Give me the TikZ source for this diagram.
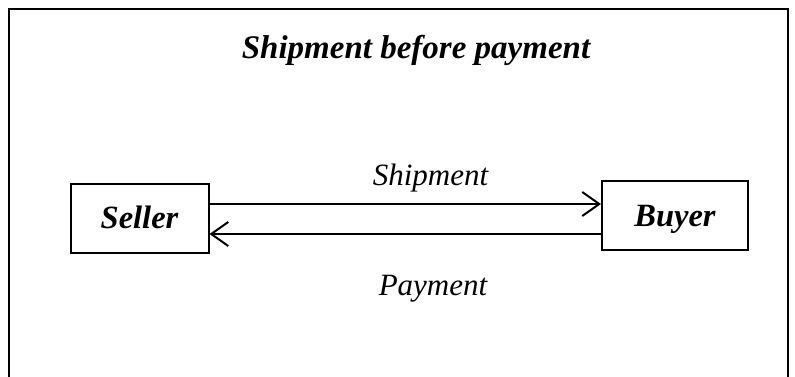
\documentclass[tikz,border=0pt]{standalone}
\usepackage{fontspec}
\setmainfont{Liberation Serif}
\usetikzlibrary{arrows.meta}
\begin{document}
\begin{tikzpicture}[x=1pt,y=-1pt,
  party/.style={draw,line width=2pt,rectangle,inner sep=0pt,font=\fontsize{32.5}{32.5}\selectfont\bfseries\itshape,text height=21pt,text depth=0pt},
  lbl/.style={font=\fontsize{31}{31}\selectfont\itshape,anchor=base},
  arr/.style={line width=2pt,-{Straight Barb[length=17pt,width=24pt,line width=2pt]}}]
\useasboundingbox (0,0) rectangle (795,376);
\draw[line width=2pt] (9,390) -- (9,9) -- (788,9) -- (788,390);
\node[font=\fontsize{33}{33}\selectfont\bfseries\itshape,anchor=base] (title) at (416,58) {Shipment before payment};
\node[party,minimum width=138pt,minimum height=69pt] (seller) at (139.5,218) {Seller};
\node[party,minimum width=146pt,minimum height=69pt] (buyer) at (675,215.5) {Buyer};
\coordinate (ys) at (0,204);
\coordinate (yp) at (0,234);
\draw[arr] (seller.east |- ys) -- (buyer.west |- ys);
\draw[arr] (buyer.west |- yp) -- (seller.east |- yp);
\node[lbl] (ship) at (430.5,185) {Shipment};
\node[lbl] (pay) at (433,295) {Payment};
\end{tikzpicture}
\end{document}
